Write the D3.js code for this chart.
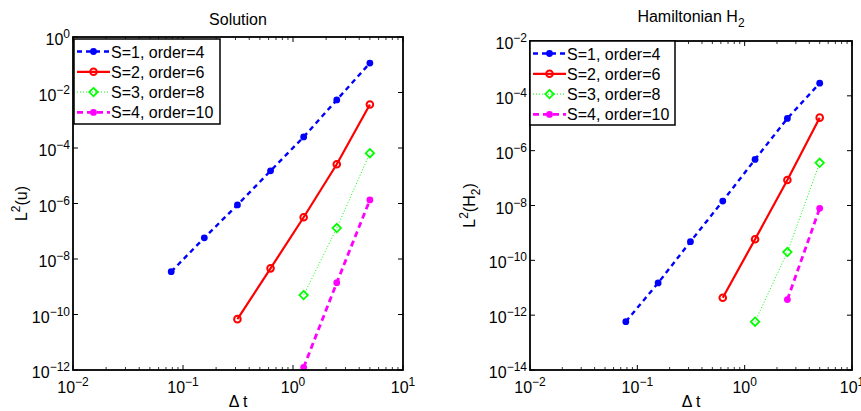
<!DOCTYPE html>
<html>
<head>
<meta charset="utf-8">
<script src="https://cdn.jsdelivr.net/npm/d3@7"></script>
<style>
  body { margin: 0; background: #fff; }
  svg { font-family: "Liberation Sans", Arial, sans-serif; }
</style>
</head>
<body>
<div id="chart"></div>
<script>
// Step sizes (delta t)
const dtS1 = [0.078125, 0.15625, 0.3125, 0.625, 1.25, 2.5, 5];
const dtS2sol = [0.3125, 0.625, 1.25, 2.5, 5];
const dtS3 = [1.25, 2.5, 5];
const dtS4sol = [1.25, 2.5, 5];
const dtS2ham = [0.625, 1.25, 2.5, 5];
const dtS4ham = [2.5, 5];

// Solution errors
const solS1 = [3.5e-9, 5.8e-8, 8.9e-7, 1.5e-5, 2.5e-4, 5.4e-3, 1.15e-1];
const solS2 = [6.8e-11, 4.6e-9, 3.2e-7, 2.6e-5, 3.7e-3];
const solS3 = [5e-10, 1.3e-7, 6.5e-5];
const solS4 = [1.25e-12, 1.4e-9, 1.35e-6];

// Hamiltonian errors
const hamS1 = [5.8e-13, 1.5e-11, 4.8e-10, 1.45e-8, 4.8e-7, 1.5e-5, 2.9e-4];
const hamS2 = [4.3e-12, 5.9e-10, 8.5e-8, 1.6e-5];
const hamS3 = [5.8e-13, 2.0e-10, 3.6e-7];
const hamS4 = [3.7e-12, 7.9e-9];

const legendLabels = ["S=1, order=4", "S=2, order=6", "S=3, order=8", "S=4, order=10"];
const xTickExps = [-2, -1, 0, 1];
const solYTickExps = [0, -2, -4, -6, -8, -10, -12];
const hamYTickExps = [-2, -4, -6, -8, -10, -12, -14];

// line styles per series
const styles = [
    { color: "#0000ff", width: 2.4, dash: "5,4", marker: "dot" },
    { color: "#ff0000", width: 2.2, dash: null, marker: "circle" },
    { color: "#00ff00", width: 1, dash: "1,2", marker: "diamond" },
    { color: "#ff00ff", width: 2.8, dash: "6,4", marker: "dot" }
];

const svg = d3.select("#chart").append("svg")
    .attr("width", 861)
    .attr("height", 411);

function pow10Label(sel, exp, anchor) {
    sel.attr("text-anchor", anchor);
    sel.append("tspan").attr("font-size", 16).text("10");
    sel.append("tspan").attr("font-size", 12).attr("dy", -7)
        .text(exp < 0 ? "\u2212" + (-exp) : exp);
}

function drawMarker(g, type, cx, cy, color) {
    if (type === "dot") {
        g.append("circle").attr("cx", cx).attr("cy", cy).attr("r", 3.4)
            .attr("fill", color);
    } else if (type === "circle") {
        g.append("circle").attr("cx", cx).attr("cy", cy).attr("r", 3.3)
            .attr("fill", "none").attr("stroke", color).attr("stroke-width", 2);
    } else {
        const s = 4.2;
        g.append("path")
            .attr("d", `M${cx},${cy - s}L${cx + s},${cy}L${cx},${cy + s}L${cx - s},${cy}Z`)
            .attr("fill", "none").attr("stroke", color).attr("stroke-width", 1.8);
    }
}

function drawPanel(cfg) {
    const g = svg.append("g").attr("transform", `translate(${cfg.left},${cfg.top})`);
    const w = cfg.width, h = cfg.height;

    const x = d3.scaleLog().domain([1e-2, 1e1]).range([0, w]);
    const y = d3.scaleLog().domain([Math.pow(10, cfg.yExps[cfg.yExps.length - 1]), Math.pow(10, cfg.yExps[0])]).range([h, 0]);

    // x ticks (major + minor), bottom and top, inward
    const xMinor = [];
    for (let e = -2; e < 1; e++) {
        for (let m = 2; m <= 9; m++) xMinor.push(m * Math.pow(10, e));
    }
    xMinor.forEach(v => {
        g.append("line").attr("x1", x(v)).attr("x2", x(v)).attr("y1", h).attr("y2", h - 3)
            .attr("stroke", "#000").attr("stroke-width", 0.8);
        g.append("line").attr("x1", x(v)).attr("x2", x(v)).attr("y1", 0).attr("y2", 3)
            .attr("stroke", "#000").attr("stroke-width", 0.8);
    });
    xTickExps.forEach(e => {
        const v = Math.pow(10, e);
        g.append("line").attr("x1", x(v)).attr("x2", x(v)).attr("y1", h).attr("y2", h - 5)
            .attr("stroke", "#000");
        g.append("line").attr("x1", x(v)).attr("x2", x(v)).attr("y1", 0).attr("y2", 5)
            .attr("stroke", "#000");
        pow10Label(g.append("text").attr("x", x(v)).attr("y", h + 23), e, "middle");
    });

    // y ticks, left and right
    cfg.yExps.forEach(e => {
        const v = Math.pow(10, e);
        g.append("line").attr("x1", 0).attr("x2", 5).attr("y1", y(v)).attr("y2", y(v))
            .attr("stroke", "#000");
        g.append("line").attr("x1", w).attr("x2", w - 5).attr("y1", y(v)).attr("y2", y(v))
            .attr("stroke", "#000");
        pow10Label(g.append("text").attr("x", -3).attr("y", y(v) + 8), e, "end");
    });

    // series
    cfg.series.forEach((s, i) => {
        const st = styles[i];
        const pts = s.dt.map((d, j) => [x(d), y(s.vals[j])]);
        g.append("path")
            .attr("d", d3.line()(pts))
            .attr("fill", "none")
            .attr("stroke", st.color)
            .attr("stroke-width", st.width)
            .attr("stroke-dasharray", st.dash);
        pts.forEach(p => drawMarker(g, st.marker, p[0], p[1], st.color));
    });

    // axes box
    g.append("rect").attr("width", w).attr("height", h)
        .attr("fill", "none").attr("stroke", "#000").attr("stroke-width", 1.8);

    // legend
    const lg = g.append("g").attr("transform", `translate(${cfg.legend[0]},${cfg.legend[1]})`);
    lg.append("rect").attr("width", cfg.legend[2]).attr("height", cfg.legend[3])
        .attr("fill", "#fff").attr("stroke", "#000").attr("stroke-width", 1.5);
    legendLabels.forEach((lab, i) => {
        const st = styles[i];
        const ly = 12.5 + i * 20.3;
        lg.append("line").attr("x1", 3).attr("x2", 36).attr("y1", ly).attr("y2", ly)
            .attr("stroke", st.color).attr("stroke-width", st.width)
            .attr("stroke-dasharray", st.dash);
        drawMarker(lg, st.marker, 19.5, ly, st.color);
        lg.append("text").attr("x", 37).attr("y", ly + 6)
            .attr("font-size", 16).text(lab);
    });

    // title
    const t = svg.append("text").attr("x", cfg.left + w / 2).attr("y", cfg.titleY)
        .attr("text-anchor", "middle").attr("font-size", 16);
    t.append("tspan").text(cfg.title[0]);
    if (cfg.title[1]) {
        t.append("tspan").attr("font-size", 12).attr("dy", 5).text(cfg.title[1]);
    }

    // x label
    svg.append("text").attr("x", cfg.left + w / 2).attr("y", 407)
        .attr("text-anchor", "middle").attr("font-size", 16).text("\u0394 t");

    // y label
    const yl = svg.append("text")
        .attr("transform", `translate(${cfg.ylabelX},${cfg.top + h / 2}) rotate(-90)`)
        .attr("text-anchor", "middle").attr("font-size", 16);
    yl.append("tspan").text("L");
    yl.append("tspan").attr("font-size", 12).attr("dy", -7).text("2");
    yl.append("tspan").attr("dy", 7).text("(" + cfg.ylabel[0]);
    if (cfg.ylabel[1]) {
        yl.append("tspan").attr("font-size", 12).attr("dy", 5).text(cfg.ylabel[1]);
        yl.append("tspan").attr("dy", -5).text(")");
    } else {
        yl.append("tspan").text(")");
    }
}

drawPanel({
    left: 73, top: 37, width: 330, height: 333,
    yExps: solYTickExps,
    series: [
        { dt: dtS1, vals: solS1 },
        { dt: dtS2sol, vals: solS2 },
        { dt: dtS3, vals: solS3 },
        { dt: dtS4sol, vals: solS4 }
    ],
    legend: [1, 2, 146, 85],
    title: ["Solution"],
    titleY: 25,
    ylabel: ["u"],
    ylabelX: 27
});

drawPanel({
    left: 530, top: 41, width: 322, height: 329,
    yExps: hamYTickExps,
    series: [
        { dt: dtS1, vals: hamS1 },
        { dt: dtS2ham, vals: hamS2 },
        { dt: dtS3, vals: hamS3 },
        { dt: dtS4ham, vals: hamS4 }
    ],
    legend: [0, 0, 145, 84],
    title: ["Hamiltonian H", "2"],
    titleY: 22,
    ylabel: ["H", "2"],
    ylabelX: 475
});
</script>
</body>
</html>
